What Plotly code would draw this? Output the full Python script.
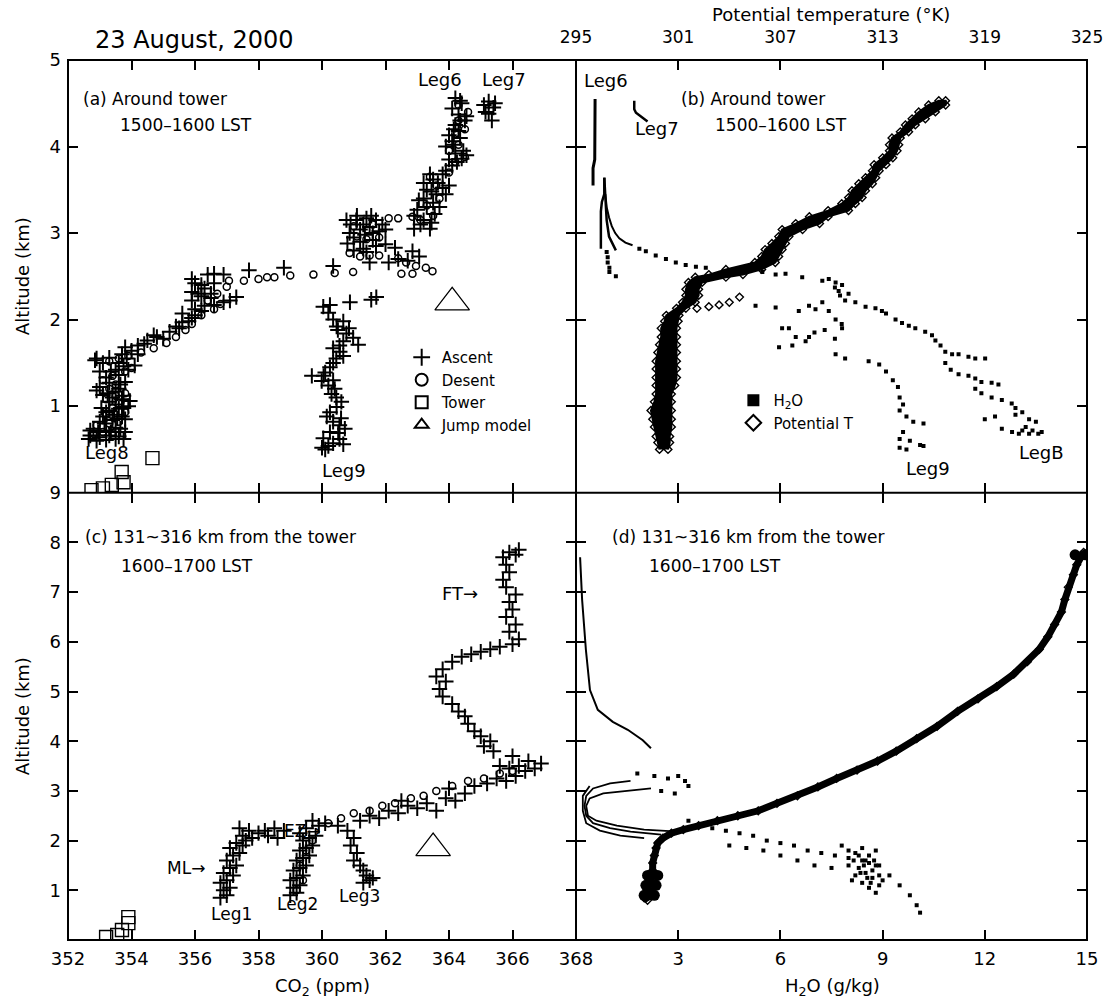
import plotly.graph_objects as go

# ---------------- data ----------------
# Panel (a): CO2 (ppm) vs altitude (km), around tower 1500-1600 LST
asc_a = [
    (352.7,0.66),(353.0,0.64),(353.3,0.66),(353.6,0.65),(352.8,0.74),(353.2,0.72),(353.5,0.75),
    (353.0,0.82),(353.4,0.84),(353.7,0.88),(353.2,0.93),(353.6,0.97),(353.9,1.0),(353.3,1.05),
    (353.7,1.08),(353.1,1.13),(353.5,1.17),(353.0,1.22),(353.3,1.27),(353.2,1.33),(353.6,1.36),
    (353.9,1.42),(354.1,1.47),(353.6,1.5),(352.9,1.55),(353.3,1.56),(353.7,1.6),(354.0,1.64),
    (354.2,1.7),(354.5,1.76),(354.8,1.8),(355.2,1.86),(355.4,1.92),(355.6,1.97),(355.9,2.02),
    (355.6,2.07),(356.0,2.12),(356.3,2.16),(355.9,2.22),(356.2,2.27),(356.5,2.25),(355.9,2.32),
    (356.3,2.36),(356.0,2.42),(355.9,2.47),(356.4,2.52),(356.6,2.53),(356.9,2.52),(357.7,2.57),
    (358.8,2.6),(360.35,2.62),(356.6,2.17),(356.9,2.2),(357.3,2.26),(357.1,2.22),
    (352.65,0.62),(352.9,0.6),(353.2,0.61),(353.5,0.62),(353.75,0.62),(353.8,0.7),(352.7,0.72),
    (353.1,0.88),(353.45,0.9),(353.8,0.85),(353.05,0.98),(353.95,1.06),(353.4,1.1),(353.75,1.12),
    (352.9,1.18),(353.6,1.2),(353.8,1.28),(353.0,1.4),(353.5,1.42),(352.85,1.53),(353.1,1.5),
    (353.85,1.55),(354.2,1.6),(353.8,1.68),(354.4,1.72),(354.7,1.82),(355.0,1.78),(355.5,1.9),
    (355.8,1.98),(356.0,2.05),(356.2,2.1),(356.5,2.3),(356.2,2.4),(356.6,2.42),(356.1,2.3),
    (352.95,0.7),(353.35,0.7),(353.65,0.74),(353.15,0.8),(353.55,0.86),(353.3,0.95),(353.75,0.98),
    (353.5,1.02),(353.25,1.15),(353.65,1.25),(353.35,1.4),(353.75,1.46),
    # Leg9
    (360.04,2.15),(360.25,2.17),(360.35,2.0),(360.67,1.98),(360.46,1.92),(360.77,1.84),(360.98,1.79),
    (361.14,1.71),(360.67,1.75),(360.35,1.67),(360.56,1.63),(360.67,1.58),(360.35,1.5),(360.25,1.45),
    (360.1,1.39),(359.68,1.35),(359.99,1.29),(360.2,1.24),(360.3,1.14),(360.61,1.05),(360.46,0.99),
    (360.15,0.88),(360.35,0.82),(360.72,0.74),(360.51,0.69),(360.04,0.63),(360.35,0.57),(360.67,0.56),
    (360.1,0.5),(360.88,2.2),(361.55,2.23),(361.71,2.26),(360.5,1.88),(360.55,1.7),(360.4,1.2),
    (360.55,0.78),(360.2,0.54),(360.2,2.08),(360.85,1.9),(360.45,1.55),(360.05,1.35),(360.35,1.3),
    (360.45,1.1),(360.25,0.93),(360.6,0.86),(360.25,0.7),(360.55,0.62),(360.0,0.52),
    # transition layer cluster
    (360.77,3.15),(361.08,3.15),(361.4,3.17),(361.7,3.15),(360.87,3.0),(361.2,3.04),(361.5,3.07),
    (361.8,3.02),(362.0,3.04),(360.8,2.88),(361.2,2.9),(361.6,2.92),(362.0,2.87),(362.3,2.83),
    (362.85,2.79),(363.06,2.73),(361.5,2.66),(362.1,2.66),(362.4,2.7),(362.7,2.68),(361.0,2.95),
    (361.35,2.98),(361.3,2.82),(361.7,2.85),(360.9,3.1),(361.3,3.1),(361.6,3.0),(361.9,3.1),
    (361.0,2.8),(361.4,2.78),(361.1,3.2),(361.55,3.2),
    # free troposphere (Leg6)
    (362.9,3.2),(363.1,3.1),(363.4,3.05),(363.0,3.27),(363.3,3.3),(363.5,3.35),(363.2,3.4),
    (363.6,3.45),(363.3,3.5),(363.8,3.52),(363.2,3.58),(363.5,3.62),(363.4,3.68),(363.9,3.72),
    (364.1,3.78),(364.4,3.86),(364.2,3.92),(363.9,4.0),(364.1,4.06),(364.0,4.13),(364.3,4.18),
    (364.2,4.25),(364.5,4.3),(364.3,4.37),(364.1,4.44),(364.4,4.5),(364.2,4.56),
    (362.9,3.05),(363.2,3.15),(363.55,3.22),(363.7,3.3),(363.9,3.45),(364.0,3.55),(363.8,3.68),
    (364.0,3.85),(364.55,3.9),(364.15,4.02),(364.35,4.1),(364.15,4.2),(364.55,4.35),(364.35,4.53),
    (363.45,3.12),(363.05,3.38),(363.45,3.48),(363.65,3.58),(364.25,3.82),(364.45,3.95),(364.35,4.3),
    # Leg7
    (365.1,4.48),(365.25,4.52),(365.4,4.45),(365.25,4.38),(365.35,4.3),(365.15,4.4),(365.45,4.5),
]
desc_a = [
    (352.8,0.68),(353.1,0.7),(353.4,0.69),(353.7,0.66),(352.9,0.78),(353.3,0.8),(353.6,0.82),
    (353.2,0.9),(353.8,0.93),(353.4,0.98),(353.6,1.03),(353.2,1.08),(353.5,1.12),(353.8,1.15),
    (353.3,1.2),(353.5,1.25),(353.1,1.3),(353.4,1.35),(353.8,1.4),(354.0,1.44),(353.3,1.52),
    (353.6,1.55),(353.9,1.58),(354.3,1.62),(354.7,1.67),(355.1,1.73),(355.4,1.8),(355.7,1.88),
    (355.9,1.95),(356.2,2.05),(356.6,2.12),(356.8,2.18),(356.4,2.22),(356.7,2.3),(357.0,2.38),
    (357.07,2.45),(357.54,2.45),(358.0,2.47),(358.27,2.49),(358.5,2.49),(359.0,2.51),(359.73,2.52),
    (360.4,2.54),(360.98,2.55),
    (360.87,2.77),(361.2,2.73),(361.5,2.74),(361.8,2.74),(361.1,2.96),(361.4,2.93),(361.8,2.95),
    (361.0,3.08),(361.6,3.1),(362.1,3.17),(362.4,3.17),(362.85,3.19),(362.4,2.71),(362.65,2.66),
    (362.96,2.62),(363.27,2.6),(363.48,2.56),(362.5,2.53),(362.85,2.53),
    (363.1,3.15),(363.5,3.2),(363.3,3.32),(363.7,3.4),(363.6,3.55),(363.4,3.65),(364.0,3.7),
    (364.2,3.82),(364.5,3.88),(364.0,3.95),(364.3,4.02),(364.2,4.15),(364.5,4.2),(364.3,4.3),
    (364.6,4.4),(364.3,4.48),
]
tower_a = [(352.74,0.03),(353.1,0.05),(353.38,0.09),(353.75,0.12),(353.69,0.24),(354.66,0.40)]
jump_a = [(364.1,2.2)]

# Panel (b): H2O (g/kg) vs altitude
h2o_b_leg6 = [(0.56,4.55),(0.56,4.3),(0.56,4.05),(0.55,3.85),(0.5,3.75),(0.5,3.55)]
h2o_b_leg7 = [(1.71,4.53),(1.71,4.43),(1.76,4.39),(1.86,4.36),(1.95,4.34),(2.05,4.31),(2.1,4.29)]
h2o_b_curve1 = [(0.83,3.64),(0.83,3.45),(0.76,3.36),(0.73,3.25),(0.73,3.0),(0.73,2.82)]
h2o_b_curve2 = [(0.83,3.64),(0.86,3.35),(0.9,3.15),(0.97,2.96),(1.04,2.9),(1.12,2.84),(1.17,2.8)]
h2o_b_curve3 = [(0.86,3.45),(0.9,3.3),(0.97,3.18),(1.05,3.08),(1.15,3.0),(1.27,2.94),(1.45,2.89),
                (1.66,2.86)]
h2o_b = [
    (1.86,2.82),(2.05,2.79),(2.34,2.74),(2.64,2.7),(2.93,2.66),(3.22,2.63),
    (3.52,2.61),(3.81,2.6),(0.9,2.78),(0.93,2.72),(0.93,2.66),(0.98,2.6),(0.98,2.55),(1.17,2.5),
    # Leg8 branch
    (5.47,2.55),(5.86,2.52),(6.15,2.53),(6.64,2.49),(7.23,2.45),(7.42,2.47),(7.62,2.43),(7.81,2.4),
    (7.71,2.33),(8.0,2.3),(7.9,2.22),(8.2,2.2),(8.5,2.15),(8.79,2.13),(8.98,2.1),(9.1,2.07),
    (9.38,2.0),(9.57,1.96),(9.77,1.93),(9.96,1.9),(10.25,1.86),(10.45,1.82),(10.55,1.76),
    (10.84,1.63),(11.04,1.6),(11.23,1.6),(11.52,1.57),(11.72,1.55),(12.01,1.55),(10.84,1.5),
    (11.0,1.42),(11.23,1.37),(11.52,1.35),(11.72,1.32),(11.9,1.28),(12.2,1.27),(12.4,1.25),
    (11.72,1.2),(11.9,1.15),(12.2,1.1),(12.5,1.07),(12.79,1.03),(12.9,0.98),(13.1,0.93),(13.3,0.85),
    (13.5,0.82),(13.2,0.76),(12.5,0.74),(12.8,0.7),(13.0,0.68),(13.3,0.68),(13.57,0.68),(13.67,0.7),
    (12.0,0.85),(12.3,0.88),(7.6,2.37),(7.75,2.28),(10.7,1.7),(12.9,0.9),(13.4,0.72),(13.1,0.72),
    # Leg9 branch
    (5.27,2.16),(5.86,2.14),(6.54,2.1),(6.84,2.16),(7.03,2.12),(7.23,2.2),(7.42,2.1),(7.62,2.0),
    (7.8,1.95),(6.05,1.9),(6.25,1.9),(6.45,1.8),(6.74,1.75),(6.84,1.8),(5.96,1.68),(6.35,1.7),
    (7.0,1.85),(7.3,1.88),(7.6,1.78),(7.81,1.9),(7.62,1.6),(7.9,1.55),(8.59,1.52),(8.9,1.48),
    (9.1,1.4),(9.3,1.3),(9.45,1.22),(9.5,1.1),(9.6,1.02),(9.5,0.95),(9.7,0.88),(9.9,0.82),
    (10.2,0.8),(9.6,0.7),(9.5,0.62),(9.8,0.6),(10.1,0.55),(9.5,0.52),(9.7,0.5),(10.2,0.54),
]
# Panel (b) potential temperature band: altitude, left edge (K), right edge (K)
potT_b_alt = [0.50,0.58,0.65,0.76,0.85,0.95,1.05,1.14,1.24,1.33,1.43,1.52,1.62,1.71,1.8,1.9,1.98,
              2.05,2.13,2.2,2.28,2.35,2.43,2.49,2.52,2.58,2.66,2.73,2.81,2.88,2.96,3.04,3.11,3.19,
              3.26,3.34,3.41,3.49,3.57,3.64,3.72,3.79,3.87,3.95,4.02,4.1,4.17,4.25,4.32,4.4,4.48,4.53]
potT_b_left = [299.9,299.8,299.7,299.6,299.5,299.4,299.6,299.7,299.7,299.7,299.7,299.7,299.8,299.9,
               300.0,300.0,300.2,300.3,300.9,301.25,301.45,301.45,301.6,302.0,302.8,303.8,305.5,
               305.9,306.1,306.5,306.9,307.1,307.9,308.7,309.8,310.6,311.0,311.2,311.6,312.0,312.4,
               312.5,313.0,313.4,313.4,313.55,314.04,314.34,314.73,315.12,315.7,316.3]
potT_b_right = [300.4,300.5,300.5,300.6,300.6,300.6,300.6,300.6,300.8,300.9,300.9,300.9,300.9,300.9,
                300.9,300.9,301.0,301.05,301.45,302.0,302.2,302.2,302.4,303.8,304.8,305.9,306.7,
                306.9,307.1,307.3,307.5,308.3,309.3,309.8,311.0,311.4,311.8,312.0,312.4,312.6,312.8,
                313.2,313.6,313.85,313.95,314.04,314.53,314.92,315.51,316.1,316.7,316.7]
potT_b_extra = [(302.1,2.13),(302.8,2.15),(303.4,2.17),(304.0,2.2),(304.6,2.26)]

# Panel (c): CO2 vs altitude, 131~316 km from the tower, 1600-1700 LST
asc_c = [
    # Leg1
    (356.8,0.85),(357.0,0.9),(356.9,1.0),(357.1,1.05),(356.8,1.15),(357.0,1.2),(357.2,1.3),
    (356.9,1.35),(357.1,1.45),(357.3,1.5),(357.0,1.6),(357.2,1.7),(357.4,1.75),(357.1,1.85),
    (357.5,1.9),(357.3,1.95),(357.6,2.0),(357.8,2.05),(357.5,2.1),(358.0,2.15),(357.7,2.2),
    (358.2,2.2),(358.5,2.25),(358.8,2.2),(358.3,2.1),(358.6,2.05),(357.4,2.25),
    # Leg2
    (359.0,0.9),(359.2,0.95),(359.1,1.05),(359.3,1.1),(359.0,1.2),(359.2,1.25),(359.4,1.3),
    (359.1,1.4),(359.3,1.45),(359.5,1.5),(359.2,1.6),(359.4,1.65),(359.6,1.7),(359.3,1.8),
    (359.5,1.85),(359.7,1.9),(359.4,2.0),(359.6,2.05),(359.8,2.1),(359.3,2.15),(359.5,2.25),
    (359.9,2.3),(360.1,2.35),(359.7,2.4),
    # Leg3 and entrainment zone
    (360.5,2.3),(360.8,2.2),(361.0,2.05),(360.9,1.9),(361.1,1.75),(361.0,1.6),(361.2,1.5),
    (361.3,1.4),(361.4,1.3),(361.5,1.2),(361.3,1.15),(361.6,1.25),(361.2,2.4),(361.5,2.5),
    (361.8,2.45),(362.1,2.6),(362.4,2.55),(362.7,2.7),(363.0,2.65),(362.5,2.8),(363.3,2.75),
    (363.6,2.6),(363.9,2.85),(364.2,2.8),(364.5,2.95),(364.0,3.05),(364.8,3.1),(365.2,3.15),
    (365.5,3.25),(365.8,3.2),(366.1,3.3),(366.4,3.4),(366.7,3.45),(366.9,3.55),(366.5,3.6),
    (366.2,3.5),(365.9,3.45),(365.6,3.5),(366.0,3.7),
    # free troposphere
    (365.4,3.8),(365.1,3.9),(365.3,4.0),(365.0,4.1),(364.8,4.2),(364.6,4.35),(364.5,4.5),
    (364.3,4.6),(364.1,4.75),(363.8,4.9),(363.7,5.05),(363.9,5.2),(363.6,5.3),(363.8,5.45),
    (364.1,5.6),(364.4,5.7),(364.7,5.75),(365.0,5.8),(365.3,5.85),(365.6,5.9),(366.0,5.95),
    (366.2,6.05),(365.9,6.2),(366.1,6.35),(365.8,6.5),(366.0,6.65),(365.9,6.8),(366.1,6.95),
    (365.8,7.1),(365.7,7.25),(365.9,7.4),(365.8,7.55),(365.7,7.7),(365.9,7.8),(366.1,7.75),
    (366.2,7.85),
]
desc_c = [
    (359.2,1.0),(359.4,1.2),(359.3,1.5),(359.5,1.8),(359.7,2.0),
    (360.2,2.35),(360.6,2.45),(361.0,2.55),(361.5,2.6),(361.9,2.7),(362.3,2.75),(362.8,2.85),
    (363.2,2.9),(363.6,3.0),(364.1,3.1),(364.6,3.2),(365.1,3.25),(365.6,3.35),(366.0,3.4),
]
tower_c = [(353.2,0.06),(353.55,0.1),(353.7,0.2),(353.9,0.34),(353.9,0.46)]
jump_c = [(363.5,1.85)]

# Panel (d): H2O and potential temperature vs altitude
h2o_d_top = [(0.12,7.7),(0.18,6.84),(0.29,5.84),(0.41,5.03),(0.64,4.63),(1.08,4.39),(1.52,4.23),
             (1.96,4.02),(2.2,3.86)]
h2o_d_c1 = [(2.2,3.05),(1.5,3.0),(0.8,2.95),(0.4,2.85),(0.3,2.7),(0.35,2.5),(0.6,2.4),(1.2,2.3),
            (2.0,2.22),(3.0,2.18)]
h2o_d_c2 = [(1.6,3.2),(1.0,3.15),(0.5,3.05),(0.3,2.9),(0.25,2.7),(0.3,2.5),(0.5,2.35),(1.0,2.25),
            (1.6,2.18),(2.5,2.12)]
h2o_d_c3 = [(0.4,3.1),(0.2,2.9),(0.2,2.6),(0.3,2.35),(0.7,2.2),(1.3,2.1),(2.0,2.05)]
h2o_d = [
    (1.8,3.35),(2.3,3.3),(2.7,3.25),(3.0,3.3),(3.2,3.2),(2.5,3.0),(2.9,2.95),(3.3,3.1),
    (3.3,2.4),(3.6,2.3),(4.0,2.25),(4.4,2.2),(4.8,2.15),(5.2,2.1),(5.6,2.0),(6.0,1.95),(6.4,1.9),
    (6.8,1.8),(7.2,1.75),(7.6,1.7),(8.0,1.65),(8.4,1.6),(8.8,1.5),(9.2,1.3),(9.5,1.1),(9.8,0.9),
    (10.0,0.7),(10.1,0.55),(7.8,1.9),(8.0,1.8),(8.2,1.75),(8.4,1.85),(8.6,1.7),(8.8,1.8),(8.0,1.5),
    (8.3,1.45),(8.5,1.35),(8.7,1.25),(8.9,1.5),(8.4,1.15),(8.6,1.05),(8.8,0.95),(9.0,1.2),(8.2,1.3),
    (8.5,1.6),(8.7,1.4),(4.5,1.9),(5.0,1.85),(5.5,1.8),(6.0,1.7),(6.5,1.6),(7.0,1.5),(7.5,1.45),
    (8.1,1.2),(8.9,1.1),(8.3,1.7),(8.6,1.55),(8.45,1.5),(8.75,1.6),(8.55,1.25),(8.35,1.35),
    (8.65,1.15),(8.15,1.6),(8.9,1.3),
]
potT_d = [
    (299.0,0.85),(299.2,0.8),(299.1,0.95),(299.3,1.0),(299.2,1.1),(299.4,1.2),(299.3,1.3),
    (299.5,1.4),(299.5,1.55),(299.6,1.7),(299.7,1.85),(299.8,1.95),(300.1,2.05),(300.6,2.15),
    (301.3,2.22),(302.2,2.3),(303.3,2.4),(304.5,2.5),(305.7,2.6),(306.8,2.75),(308.0,2.9),
    (309.2,3.08),(310.3,3.25),(311.5,3.42),(312.7,3.6),(313.8,3.8),(315.0,4.05),(316.2,4.3),
    (317.4,4.6),(318.6,4.85),(319.7,5.1),(320.7,5.35),(321.5,5.6),(322.2,5.85),(322.7,6.1),
    (323.1,6.35),(323.5,6.6),(323.7,6.85),(323.9,7.1),(324.2,7.35),(324.4,7.55),(324.6,7.7),
    (324.8,7.8),
]
potT_d_blob = [(299.0,0.9),(299.6,0.9),(299.1,1.1),(299.7,1.1),(299.2,1.3),(299.8,1.3),
               (324.3,7.75),(324.9,7.75)]

co2_ticks = [352, 354, 356, 358, 360, 362, 364, 366, 368]
h2o_ticks = [3, 6, 9, 12, 15]
theta_ticks = [295, 301, 307, 313, 319, 325]

# ---------------- layout geometry ----------------
W, H = 1116, 1002
L, R, T, B = 68, 1091, 60, 940
XM, YM = 578, 492.7
FONT = "DejaVu Sans"

def px(x):
    return (x - L) / (R - L)

def py(y):
    return (B - y) / (B - T)

xm = px(XM)
ym = py(YM)

fig = go.Figure()

def add(pts, xa, ya, name, marker, showlegend=False, legend="legend", mode="markers", line=None):
    fig.add_trace(go.Scatter(
        x=[p[0] for p in pts], y=[p[1] for p in pts], xaxis=xa, yaxis=ya,
        mode=mode, name=name, marker=marker, line=line, showlegend=showlegend,
        legend=legend, hoverinfo="skip"))

m_asc = dict(symbol="cross-thin", size=11, color="black", line=dict(width=2, color="black"))
m_desc = dict(symbol="circle-open", size=7, color="black", line=dict(width=1.5, color="black"))
m_tower = dict(symbol="square-open", size=13, color="black", line=dict(width=1.4, color="black"))
m_jump = dict(symbol="triangle-up-open", size=30, color="black", line=dict(width=1.2, color="black"))
m_h2o = dict(symbol="square", size=4, color="black", line=dict(width=0))
m_pot = dict(symbol="diamond-open", size=6, color="black", line=dict(width=1.4, color="black"))

# panel (a)
add(asc_a, "x", "y", "Ascent", m_asc, True)
add(desc_a, "x", "y", "Desent", m_desc, True)
add(tower_a, "x", "y", "Tower", m_tower, True)
add(jump_a, "x", "y", "Jump model", m_jump, True)

# panel (b)
fig.add_trace(go.Scatter(
    x=potT_b_left + potT_b_right[::-1], y=potT_b_alt + potT_b_alt[::-1], xaxis="x5", yaxis="y2",
    mode="lines", fill="toself", fillcolor="black", line=dict(color="black", width=2),
    showlegend=False, hoverinfo="skip"))
edge_pts = list(zip(potT_b_left, potT_b_alt)) + list(zip(potT_b_right, potT_b_alt)) + potT_b_extra
add(h2o_b, "x2", "y2", "H<sub>2</sub>O", m_h2o, True, "legend2")
add(edge_pts, "x5", "y2", "Potential T", m_pot, True, "legend2")
for seg, w in ((h2o_b_leg6, 3), (h2o_b_leg7, 2.5), (h2o_b_curve1, 2.5), (h2o_b_curve2, 2.5),
               (h2o_b_curve3, 2)):
    add(seg, "x2", "y2", "H2O", None, mode="lines", line=dict(color="black", width=w))

# panel (c)
add(asc_c, "x3", "y3", "Ascent", m_asc)
add(desc_c, "x3", "y3", "Desent", m_desc)
add(tower_c, "x3", "y3", "Tower", m_tower)
add(jump_c, "x3", "y3", "Jump model", m_jump)

# panel (d)
for seg, w in ((h2o_d_top, 2), (h2o_d_c1, 1.8), (h2o_d_c2, 1.8), (h2o_d_c3, 1.8)):
    add(seg, "x4", "y4", "H2O", None, mode="lines", line=dict(color="black", width=w))
add(h2o_d, "x4", "y4", "H2O", m_h2o)
add(potT_d, "x6", "y4", "Potential T", m_pot, mode="lines+markers", line=dict(color="black", width=7))
add(potT_d_blob, "x6", "y4", "Potential T",
    dict(symbol="circle", size=11, color="black", line=dict(width=0)))

ax = dict(showgrid=False, zeroline=False, showline=False, ticks="inside", ticklen=10, tickwidth=1.5,
          tickcolor="black", mirror="ticks", tickfont=dict(family=FONT, size=18, color="black"))

fig.update_layout(
    width=W, height=H, plot_bgcolor="white", paper_bgcolor="white",
    margin=dict(l=L, r=W - R, t=T, b=H - B),
    font=dict(family=FONT, size=16, color="black"),
    xaxis=dict(ax, domain=[0, xm], range=[352, 368], anchor="y", tickvals=co2_ticks, showticklabels=False),
    yaxis=dict(ax, domain=[ym, 1], range=[0, 5], anchor="x", tickvals=[1, 2, 3, 4, 5], ticklabelstandoff=6),
    xaxis2=dict(ax, domain=[xm, 1], range=[0, 15], anchor="y2", tickvals=h2o_ticks, showticklabels=False),
    yaxis2=dict(ax, domain=[ym, 1], range=[0, 5], anchor="x2", tickvals=[1, 2, 3, 4], showticklabels=False),
    xaxis3=dict(ax, domain=[0, xm], range=[352, 368], anchor="y3", tickvals=co2_ticks, ticklabelstandoff=6),
    yaxis3=dict(ax, domain=[0, ym], range=[0, 9], anchor="x3", tickvals=list(range(1, 10)), ticklabelstandoff=6),
    xaxis4=dict(ax, domain=[xm, 1], range=[0, 15], anchor="y4", tickvals=h2o_ticks, ticklabelstandoff=6),
    yaxis4=dict(ax, domain=[0, ym], range=[0, 9], anchor="x4", tickvals=list(range(1, 9)), showticklabels=False),
    xaxis5=dict(overlaying="x2", anchor="y2", side="top", range=[295, 325], tickvals=theta_ticks,
                showgrid=False, zeroline=False, showline=False, ticks="", ticklabelstandoff=13,
                tickfont=dict(family=FONT, size=17, color="black")),
    xaxis6=dict(overlaying="x4", anchor="y4", range=[295, 325], visible=False),
    legend=dict(x=px(403), y=py(341), xanchor="left", yanchor="top", bgcolor="rgba(0,0,0,0)",
                font=dict(family=FONT, size=15), itemsizing="constant", tracegroupgap=0),
    legend2=dict(x=px(736), y=py(384), xanchor="left", yanchor="top", bgcolor="rgba(0,0,0,0)",
                 font=dict(family=FONT, size=15), itemsizing="constant", tracegroupgap=0),
    shapes=[
        dict(type="rect", xref="paper", yref="paper", x0=0, x1=1, y0=0, y1=1,
             line=dict(color="black", width=2)),
        dict(type="line", xref="paper", yref="paper", x0=xm, x1=xm, y0=0, y1=1,
             line=dict(color="black", width=2)),
        dict(type="line", xref="paper", yref="paper", x0=0, x1=1, y0=ym, y1=ym,
             line=dict(color="black", width=2)),
    ],
)

def note(text, x, y, size=16, xanchor="center", angle=0):
    fig.add_annotation(text=text, x=px(x), y=py(y), xref="paper", yref="paper", showarrow=False,
                       xanchor=xanchor, yanchor="middle", textangle=angle,
                       font=dict(family=FONT, size=size, color="black"))

note("23 August, 2000", 195, 40, 24)
note("Potential temperature (°K)", 834, 14, 18)
note("Altitude (km)", 22, 276, 18, angle=-90)
note("Altitude (km)", 22, 716, 18, angle=-90)
note("CO<sub>2</sub> (ppm)", 323, 987, 18)
note("H<sub>2</sub>O (g/kg)", 835, 987, 18)

note("(a) Around tower", 81, 99, 17, "left")
note("1500–1600 LST", 118, 125, 17, "left")
note("(b) Around tower", 681, 99, 17, "left")
note("1500–1600 LST", 716, 125, 17, "left")
note("(c) 131~316 km from the tower", 83, 537, 17, "left")
note("1600–1700 LST", 119, 566, 17, "left")
note("(d) 131~316 km from the tower", 612, 537, 17, "left")
note("1600–1700 LST", 649, 566, 17, "left")

note("Leg6", 441, 79, 18)
note("Leg7", 506, 79, 18)
note("Leg8", 107, 453, 18)
note("Leg9", 345, 470, 18)
note("Leg6", 608, 81, 18)
note("Leg7", 659, 128, 18)
note("Leg9", 931, 468, 18)
note("LegB", 1045, 452, 18)
note("FT→", 462, 593, 18)
note("EZ→", 303, 831, 17)
note("ML→", 186, 868, 17)
note("Leg1", 232, 914, 17)
note("Leg2", 298, 904, 17)
note("Leg3", 361, 896, 17)

fig.write_html("out.html")
